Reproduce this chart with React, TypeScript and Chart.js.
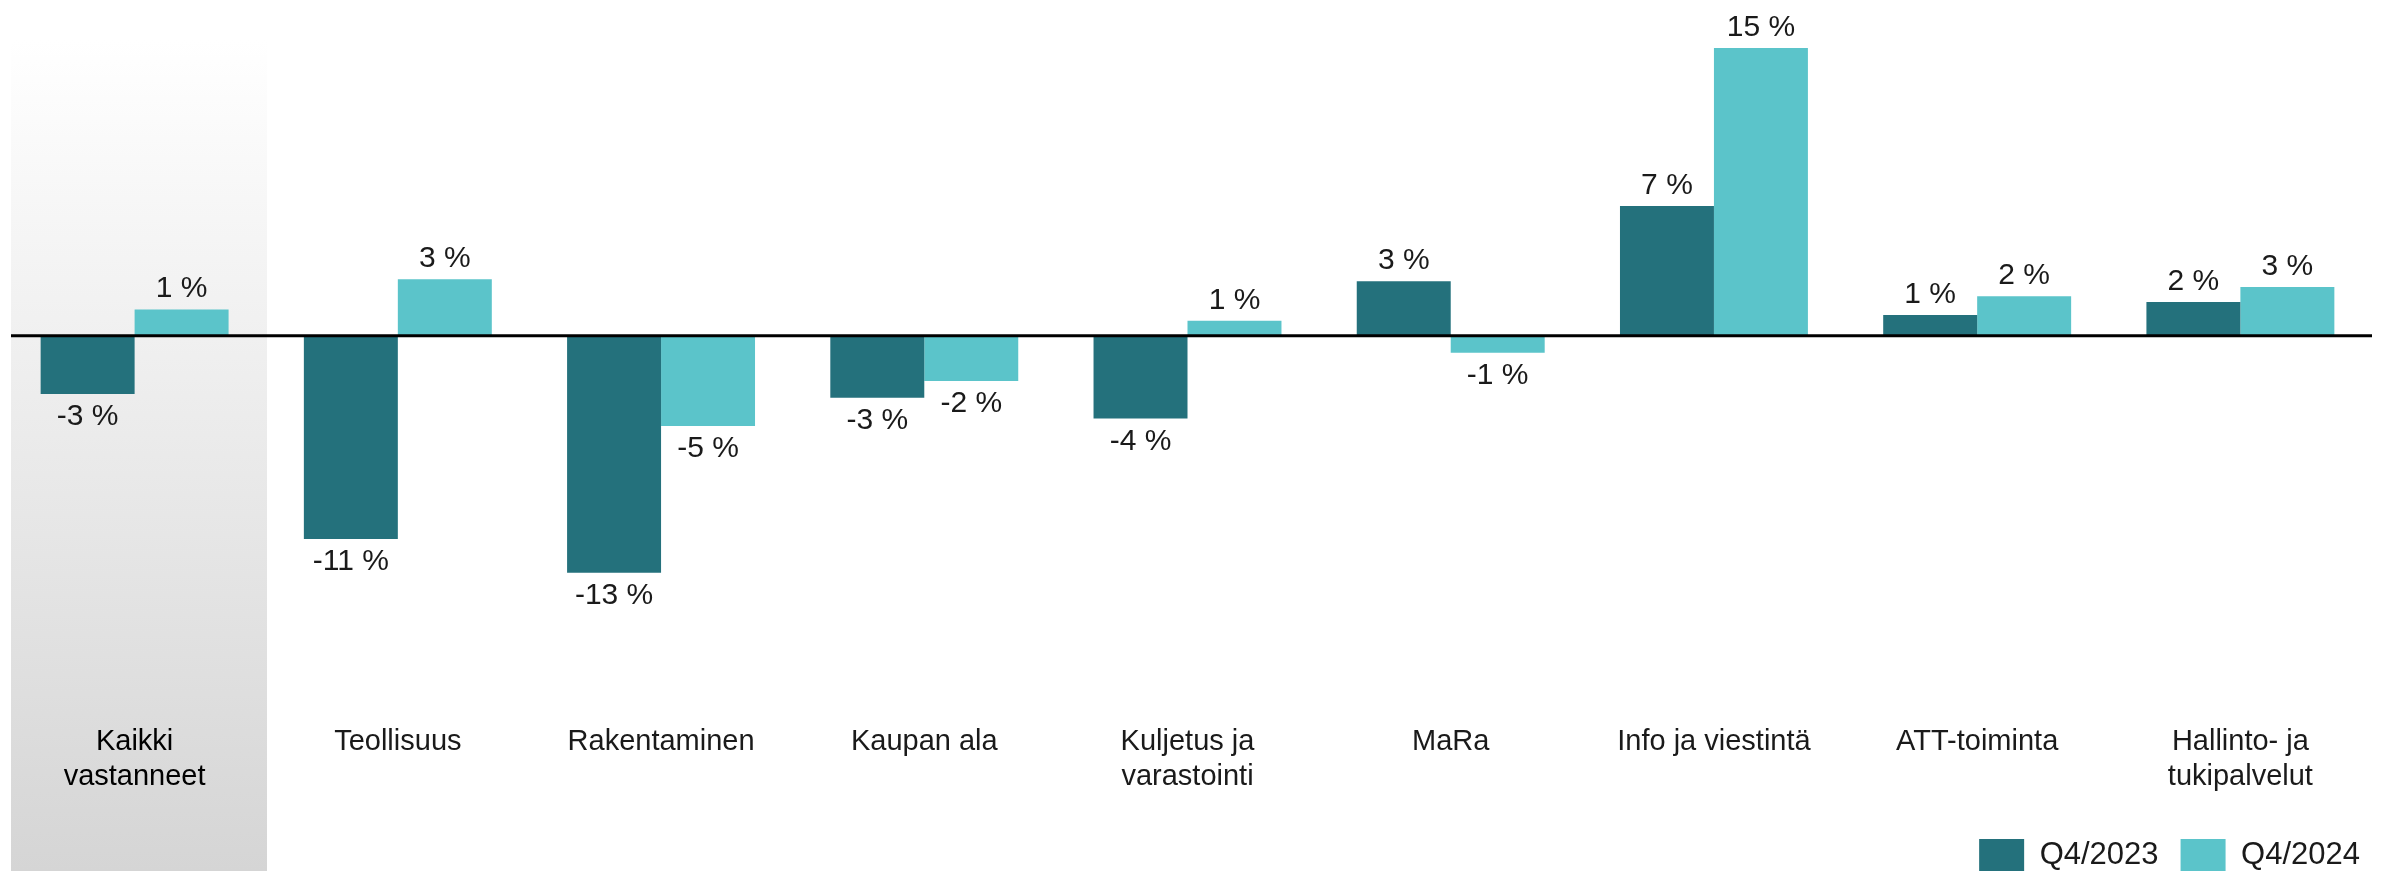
import React, { useEffect, useRef } from "react";
import { Chart, registerables } from "chart.js";

Chart.register(...registerables);

const categories: (string | string[])[] = [
  ["Kaikki", "vastanneet"],
  "Teollisuus",
  "Rakentaminen",
  "Kaupan ala",
  ["Kuljetus ja", "varastointi"],
  "MaRa",
  "Info ja viestintä",
  "ATT-toiminta",
  ["Hallinto- ja", "tukipalvelut"],
];
const seriesNames = ["Q4/2023", "Q4/2024"];
const q2023 = [-3.1, -10.8, -12.6, -3.3, -4.4, 2.9, 6.9, 1.1, 1.8];
const q2024 = [1.4, 3.0, -4.8, -2.4, 0.8, -0.9, 15.3, 2.1, 2.6];
const seriesColors = ["#24717C", "#5BC4CA"];
const yMin = -20;
const yMax = 17;

const FONT = "'Liberation Sans', Arial, Helvetica, sans-serif";

const panelPlugin = {
  id: "panel",
  beforeDraw(chart: any) {
    const { ctx } = chart;
    const xs = chart.scales.x;
    const catW = (chart.chartArea.right - chart.chartArea.left) / categories.length;
    const left = xs.getPixelForValue(0) - catW / 2 + 8;
    const g = ctx.createLinearGradient(0, 40, 0, chart.height);
    g.addColorStop(0, "#ffffff");
    g.addColorStop(1, "#d5d5d5");
    ctx.save();
    ctx.fillStyle = g;
    ctx.fillRect(left, 40, 256, chart.height - 40);
    ctx.restore();
  },
};

const zeroLinePlugin = {
  id: "zeroLine",
  afterDatasetsDraw(chart: any) {
    const { ctx, chartArea } = chart;
    const y = chart.scales.y.getPixelForValue(0);
    ctx.save();
    ctx.strokeStyle = "#000000";
    ctx.lineWidth = 3;
    ctx.beginPath();
    ctx.moveTo(chartArea.left + 8, y);
    ctx.lineTo(chartArea.right, y);
    ctx.stroke();
    ctx.restore();
  },
};

const labelPlugin = {
  id: "valueLabels",
  afterDatasetsDraw(chart: any) {
    const { ctx } = chart;
    ctx.save();
    ctx.font = `30px ${FONT}`;
    ctx.fillStyle = "#1a1a1a";
    ctx.textAlign = "center";
    ctx.textBaseline = "alphabetic";
    chart.data.datasets.forEach((ds: any, di: number) => {
      const meta = chart.getDatasetMeta(di);
      meta.data.forEach((bar: any, i: number) => {
        const v = ds.data[i];
        const txt = `${Math.round(v)} %`;
        const y = v >= 0 ? bar.y - 12 : bar.y + 31;
        ctx.fillText(txt, bar.x, y);
      });
    });
    ctx.restore();
  },
};

export default function App() {
  const ref = useRef<HTMLCanvasElement | null>(null);
  useEffect(() => {
    document.body.style.margin = "0";
    if (!ref.current) return;
    Chart.defaults.font.family = FONT;
    const chart = new Chart(ref.current, {
      type: "bar",
      data: {
        labels: categories,
        datasets: [
          {
            label: seriesNames[0],
            data: q2023,
            backgroundColor: seriesColors[0],
            categoryPercentage: 0.714,
            barPercentage: 1,
          },
          {
            label: seriesNames[1],
            data: q2024,
            backgroundColor: seriesColors[1],
            categoryPercentage: 0.714,
            barPercentage: 1,
          },
        ],
      },
      options: {
        responsive: false,
        animation: false,
        devicePixelRatio: 1,
        layout: { padding: { left: 3, right: 2, top: 16, bottom: -10 } },
        plugins: {
          tooltip: { enabled: false },
          legend: {
            position: "bottom",
            align: "end",
            labels: {
              boxWidth: 45,
              boxHeight: 32,
              padding: 22,
              color: "#1a1a1a",
              font: { size: 31, family: FONT },
            },
          },
        },
        scales: {
          x: {
            grid: { display: false, drawTicks: false },
            border: { display: false },
            ticks: {
              padding: 13,
              maxRotation: 0,
              minRotation: 0,
              autoSkip: false,
              font: { size: 29, family: FONT },
              color: (c: any) => (c.index === 0 ? "#000000" : "#1a1a1a"),
            },
            afterFit: (s: any) => {
              s.height = 105;
            },
          },
          y: {
            position: "right",
            min: yMin,
            max: yMax,
            grid: { display: false },
            border: { display: false },
            ticks: { display: false },
            afterFit: (s: any) => {
              s.width = 10;
            },
          },
        },
      },
      plugins: [panelPlugin, zeroLinePlugin, labelPlugin],
    } as any);
    return () => chart.destroy();
  }, []);
  return (
    <div style={{ width: 2384, height: 871 }}>
      <canvas ref={ref} width={2384} height={871} style={{ display: "block" }} />
    </div>
  );
}
